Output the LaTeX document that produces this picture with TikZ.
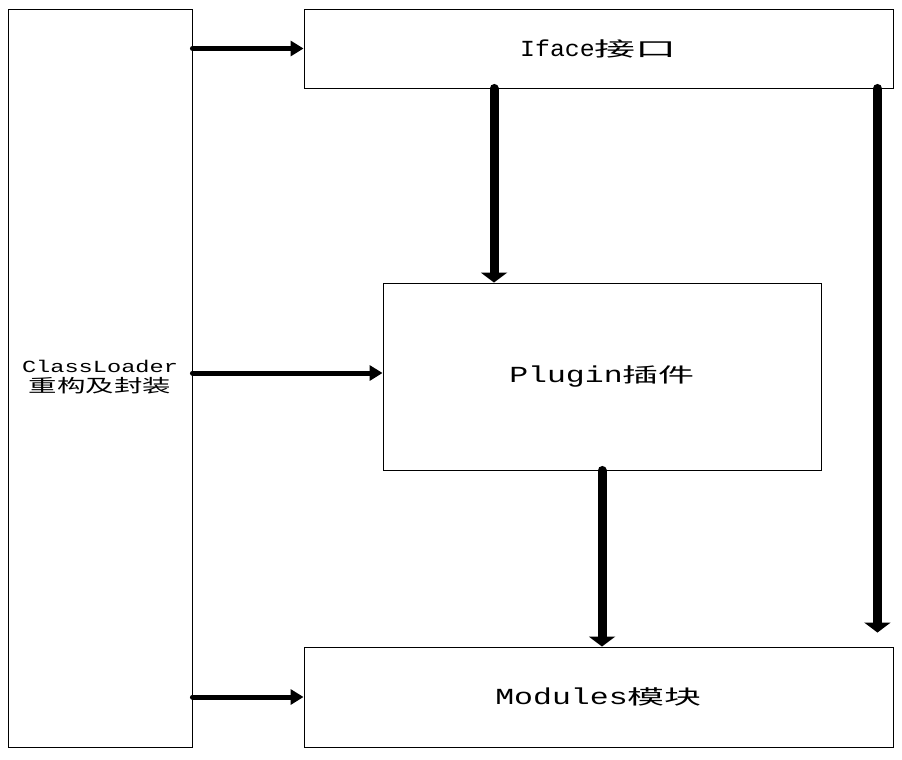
\documentclass[tikz,border=0pt]{standalone}
\usepackage{fontspec}
\usepackage{graphicx}
\newfontfamily\asc{Liberation Mono}
\newfontfamily\cjk{Noto Sans CJK SC}
\usetikzlibrary{arrows.meta}
\newcommand\lbl[6]{\scalebox{#1}[1]{\fontsize{#2}{#2}\asc #3}\scalebox{#4}[1]{\fontsize{#5}{#5}\cjk #6}}
\tikzset{
  box/.style={draw=black, line width=0.9pt, inner sep=0pt, anchor=center},
  harrow/.style={line width=5pt, line cap=round, -{Triangle[length=13pt,width=15pt]}},
  varrow/.style={line width=9pt, line cap=round, -{Triangle[length=10pt,width=26pt]}},
}
\begin{document}
\begin{tikzpicture}[x=1pt,y=-1pt]
\useasboundingbox (0,0) rectangle (902,760);
\node[box, minimum width=184pt, minimum height=738pt] (left) at (100,378) {};
\node[align=center, inner sep=0pt] (cltext) at (100,377) {\lbl{1.39}{17}{ClassLoader}{1}{17}{}\\[3pt]\lbl{1}{17}{}{1.58}{18}{重构及封装}};
\node[box, minimum width=589pt, minimum height=79pt] (iface) at (598.5,48.5) {\lbl{1.08}{23}{Iface}{2.05}{20}{接口}};
\node[box, minimum width=438pt, minimum height=187pt] (plugin) at (602,376.5) {\lbl{1.37}{23}{Plugin}{1.8}{20}{插件}};
\node[box, minimum width=589pt, minimum height=100pt] (modules) at (598.5,697) {\lbl{1.37}{23}{Modules}{1.85}{20}{模块}};
\coordinate (rend) at ([xshift=-16pt,yshift=14pt]modules.north east);
\draw[harrow] (left.east |- iface.west) -- (iface.west);
\draw[harrow] ([yshift=3.5pt]left.east |- plugin.west) -- ([yshift=3.5pt]plugin.west);
\draw[harrow] (left.east |- modules.west) -- (modules.west);
\draw[varrow] ([xshift=-108pt]plugin.north |- iface.south) -- ([xshift=-108pt]plugin.north);
\draw[varrow] (plugin.south) -- (plugin.south |- modules.north);
\draw[varrow] ([xshift=-16pt]iface.south east) -- (rend);
\end{tikzpicture}
\end{document}
